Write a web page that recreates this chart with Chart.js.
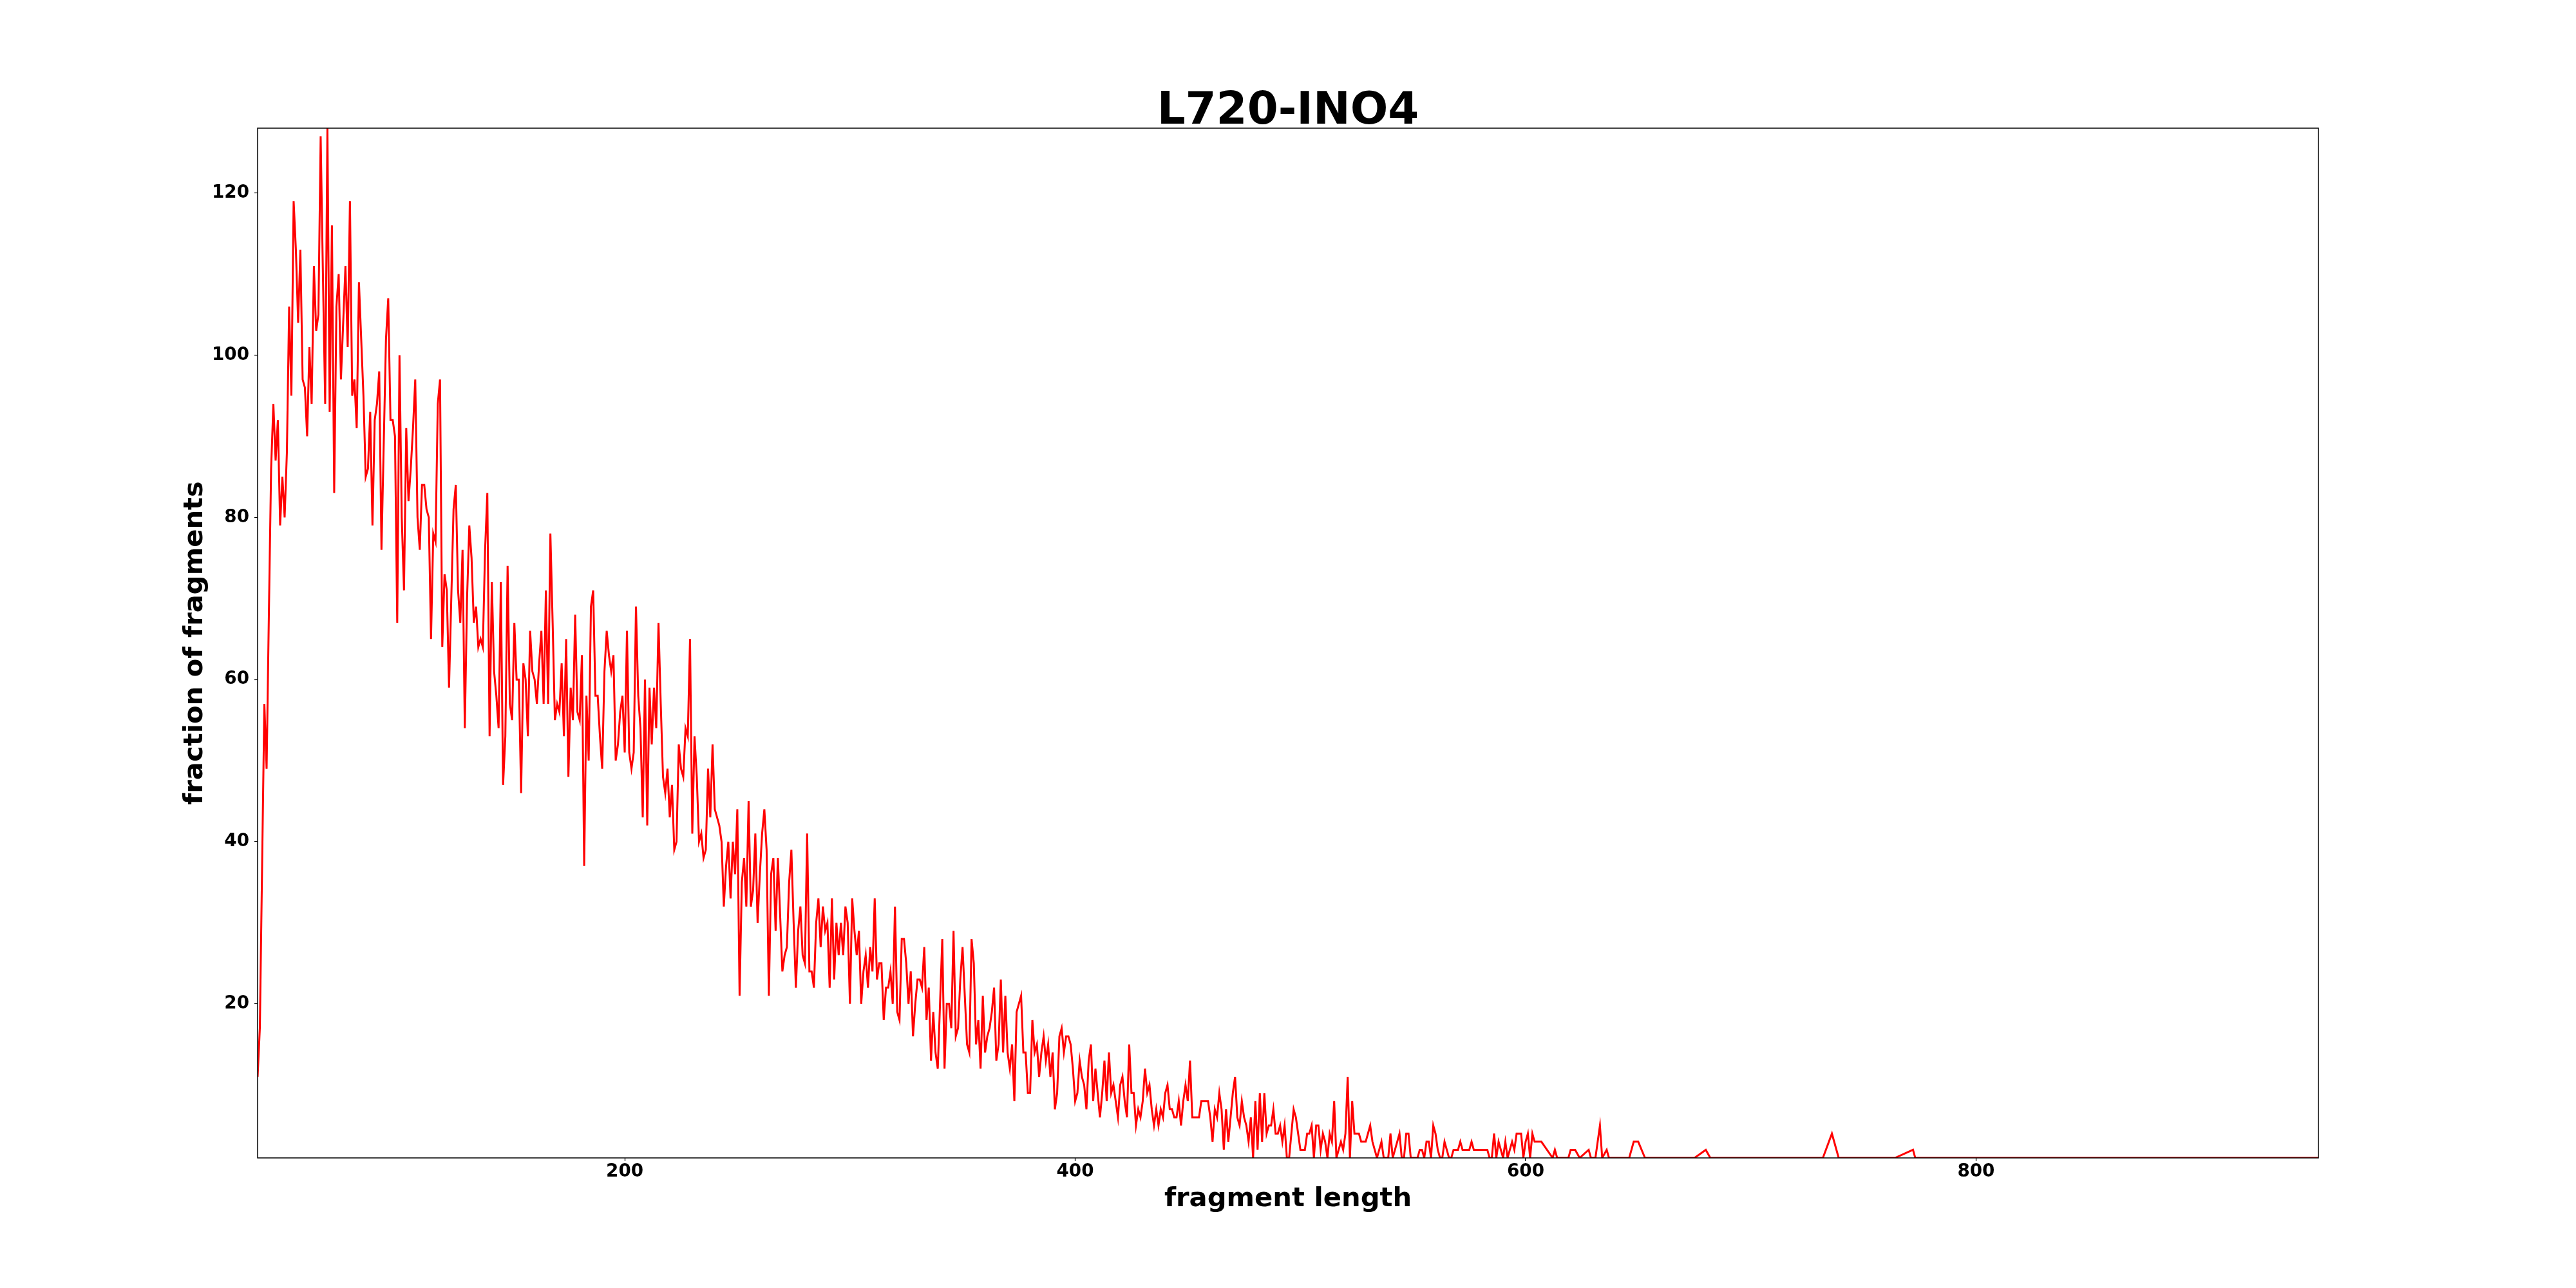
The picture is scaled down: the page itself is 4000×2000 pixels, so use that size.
<!DOCTYPE html>
<html>
<head>
<meta charset="utf-8">
<title>L720-INO4</title>
<script src="https://cdn.jsdelivr.net/npm/chart.js@4.4.1/dist/chart.umd.min.js"></script>
<style>
  html, body { margin: 0; padding: 0; background: #ffffff; }
</style>
</head>
<body>
<canvas id="myChart" width="4000" height="2000"></canvas>
<script>
// Fragment length histogram, one count per length from 37 to 607
const firstLength = 37;
const denseCounts = [
  11, 17, 37, 57, 49, 68, 86, 94, 87, 92,       // 37
  79, 85, 80, 88, 106, 95, 119, 113, 104, 113,  // 47
  97, 96, 90, 101, 94, 111, 103, 105, 127, 110, // 57
  94, 128, 93, 116, 83, 106, 110, 97, 104, 111, // 67
  101, 119, 95, 97, 91, 109, 102, 95, 85, 86,   // 77
  93, 79, 92, 94, 98, 76, 89, 102, 107, 92,     // 87
  92, 90, 67, 100, 80, 71, 91, 82, 86, 91,      // 97
  97, 80, 76, 84, 84, 81, 80, 65, 78, 77,       // 107
  94, 97, 64, 73, 71, 59, 70, 81, 84, 71,       // 117
  67, 76, 54, 70, 79, 75, 67, 69, 64, 65,       // 127
  64, 76, 83, 53, 72, 61, 58, 54, 72, 47,       // 137
  53, 74, 57, 55, 67, 60, 60, 46, 62, 60,       // 147
  53, 66, 61, 60, 57, 62, 66, 57, 71, 57,       // 157
  78, 67, 55, 57, 56, 62, 53, 65, 48, 59,       // 167
  55, 68, 56, 55, 63, 37, 58, 50, 69, 71,       // 177
  58, 58, 53, 49, 61, 66, 63, 61, 63, 50,       // 187
  52, 56, 58, 51, 66, 51, 49, 51, 69, 58,       // 197
  54, 43, 60, 42, 59, 52, 59, 54, 67, 57,       // 207
  48, 46, 49, 43, 47, 39, 40, 52, 49, 48,       // 217
  54, 53, 65, 41, 53, 48, 40, 41, 38, 39,       // 227
  49, 43, 52, 44, 43, 42, 40, 32, 37, 40,       // 237
  33, 40, 36, 44, 21, 35, 38, 32, 45, 32,       // 247
  34, 41, 30, 36, 41, 44, 39, 21, 36, 38,       // 257
  29, 38, 31, 24, 26, 27, 35, 39, 30, 22,       // 267
  29, 32, 26, 25, 41, 24, 24, 22, 30, 33,       // 277
  27, 32, 29, 30, 22, 33, 23, 30, 26, 30,       // 287
  26, 32, 30, 20, 33, 29, 26, 29, 20, 24,       // 297
  26, 22, 27, 24, 33, 23, 25, 25, 18, 22,       // 307
  22, 24, 20, 32, 19, 18, 28, 28, 25, 20,       // 317
  24, 16, 20, 23, 23, 22, 27, 18, 22, 13,       // 327
  19, 14, 12, 20, 28, 12, 20, 20, 17, 29,       // 337
  16, 17, 23, 27, 21, 15, 14, 28, 25, 15,       // 347
  18, 12, 21, 14, 16, 17, 19, 22, 13, 15,       // 357
  23, 14, 21, 14, 12, 15, 8, 19, 20, 21,        // 367
  14, 14, 9, 9, 18, 14, 15, 11, 14, 16,         // 377
  13, 15, 11, 14, 7, 9, 16, 17, 14, 16,         // 387
  16, 15, 12, 8, 9, 13, 11, 10, 7, 13,          // 397
  15, 8, 12, 9, 6, 9, 13, 8, 14, 9,             // 407
  10, 8, 6, 10, 11, 8, 6, 15, 9, 9,             // 417
  5, 7, 6, 8, 12, 9, 10, 7, 5, 7,               // 427
  5, 7, 6, 9, 10, 7, 7, 6, 6, 8,                // 437
  5, 8, 10, 8, 13, 6, 6, 6, 6, 8,               // 447
  8, 8, 8, 6, 3, 7, 6, 9, 7, 2,                 // 457
  7, 3, 6, 9, 11, 6, 5, 8, 6, 5,                // 467
  3, 6, 1, 8, 2, 9, 3, 9, 4, 5,                 // 477
  5, 7, 4, 4, 5, 3, 5, 1, 1, 4,                 // 487
  7, 6, 4, 2, 2, 2, 4, 4, 5, 1,                 // 497
  5, 5, 2, 4, 3, 1, 4, 3, 8, 1,                 // 507
  2, 3, 2, 4, 11, 1, 8, 4, 4, 4,                // 517
  3, 3, 3, 4, 5, 3, 2, 1, 2, 3,                 // 527
  1, 1, 1, 4, 1, 2, 3, 4, 1, 1,                 // 537
  4, 4, 1, 1, 1, 1, 2, 2, 1, 3,                 // 547
  3, 1, 5, 4, 2, 1, 1, 3, 2, 1,                 // 557
  1, 2, 2, 2, 3, 2, 2, 2, 2, 3,                 // 567
  2, 2, 2, 2, 2, 2, 2, 1, 1, 4,                 // 577
  1, 3, 2, 1, 3, 1, 2, 3, 2, 4,                 // 587
  4, 4, 1, 3, 4, 1, 4, 3, 3, 3, 3,              // 597
];

// Sparse tail: only the lengths that were seen
const tailLengths = [612, 613, 614, 619, 620, 622, 624, 628, 629, 631, 633, 634, 636, 637,
  646, 648, 650, 653, 675, 680, 682, 732, 736, 739, 764, 772, 773, 952];
const tailCounts = [1, 2, 1, 1, 2, 2, 1, 2, 1, 1, 5, 1, 2, 1,
  1, 3, 3, 1, 1, 2, 1, 1, 4, 1, 1, 2, 1, 1];

const xTicks = [200, 400, 600, 800];
const yTicks = [20, 40, 60, 80, 100, 120];

// Build the point list
const points = denseCounts.map((c, i) => ({ x: firstLength + i, y: c }));
tailLengths.forEach((len, i) => points.push({ x: len, y: tailCounts[i] }));

const fontFamily = "'DejaVu Sans', sans-serif";

// Box round the plot area, like the matplotlib spines
const frame = {
  id: "frame",
  afterDraw(chart) {
    const { ctx, chartArea } = chart;
    ctx.save();
    ctx.strokeStyle = "#000000";
    ctx.lineWidth = 1.5;
    ctx.strokeRect(chartArea.left, chartArea.top, chartArea.right - chartArea.left, chartArea.bottom - chartArea.top);
    ctx.restore();
  },
};

// Create the chart
const ctx = document.getElementById("myChart").getContext("2d");
const myChart = new Chart(ctx, {
  type: "line",
  data: {
    datasets: [
      {
        label: "L720-INO4",
        data: points,
        yAxisID: "y",
        borderColor: "#ff0000",
        borderWidth: 3,
        pointRadius: 0,
        fill: false,
        tension: 0,
        clip: 0,
      },
    ],
  },
  options: {
    responsive: false,
    animation: false,
    layout: { padding: 0 },
    plugins: {
      legend: { display: false },
      tooltip: { enabled: false },
      title: {
        display: true,
        text: "L720-INO4",
        color: "#000000",
        font: { family: fontFamily, size: 69, weight: "bold", lineHeight: 0.713 },
        padding: { top: 149.8, bottom: 0 },
      },
    },
    scales: {
      x: {
        type: "linear",
        min: 37,
        max: 952,
        afterFit: (scale) => { scale.height = 202; },
        afterBuildTicks: (scale) => { scale.ticks = xTicks.map((v) => ({ value: v })); },
        grid: { drawOnChartArea: false, drawTicks: true, tickLength: 5, color: "#000000", tickWidth: 1.2 },
        border: { display: false },
        ticks: {
          color: "#000000",
          padding: 0,
          maxRotation: 0,
          autoSkip: false,
          font: { family: fontFamily, size: 27.8, weight: "bold" },
        },
        title: {
          display: true,
          text: "fragment length",
          color: "#000000",
          font: { family: fontFamily, size: 41.7, weight: "bold" },
          padding: { top: 0, bottom: 113 },
        },
      },
      y: {
        type: "linear",
        position: "left",
        min: 1,
        max: 128,
        afterFit: (scale) => { scale.width = 400; },
        afterBuildTicks: (scale) => { scale.ticks = yTicks.map((v) => ({ value: v })); },
        grid: { drawOnChartArea: false, drawTicks: true, tickLength: 5, color: "#000000", tickWidth: 1.2 },
        border: { display: false },
        ticks: {
          color: "#000000",
          padding: 8,
          font: { family: fontFamily, size: 27.8, weight: "bold" },
        },
        title: {
          display: true,
          text: "fraction of fragments",
          color: "#000000",
          font: { family: fontFamily, size: 41.7, weight: "bold" },
          padding: { top: 278, bottom: 0 },
        },
      },
      // empty right margin so the title centres on the whole figure
      yRight: {
        type: "linear",
        position: "right",
        afterFit: (scale) => { scale.width = 400; },
        grid: { display: false },
        border: { display: false },
        ticks: { display: false },
      },
    },
  },
  plugins: [frame],
});
</script>
</body>
</html>
